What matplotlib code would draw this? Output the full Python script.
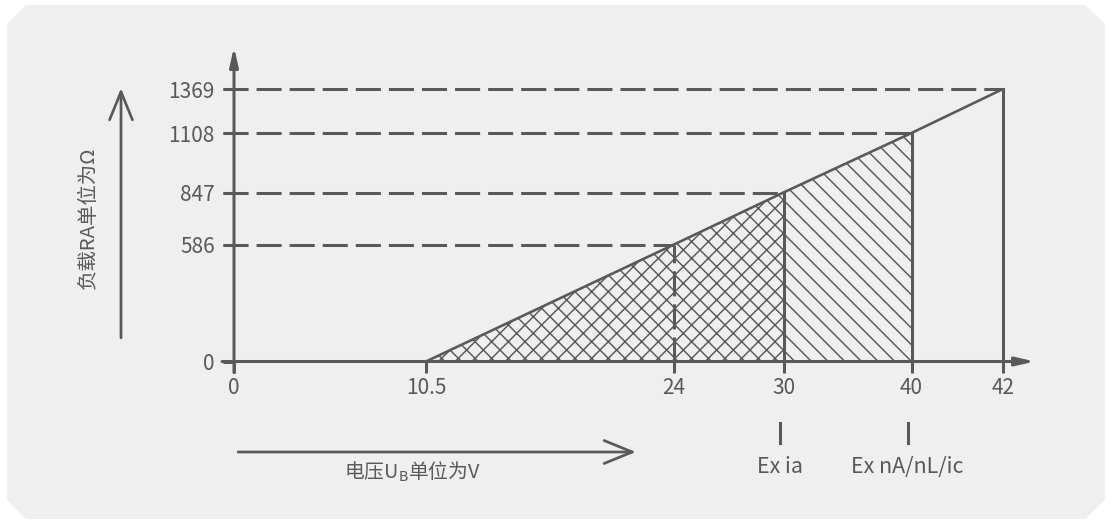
# Schematic: load resistance vs supply voltage for Ex ia / Ex nA/nL/ic zones

import numpy as np
import matplotlib
matplotlib.use('Agg')
import matplotlib.pyplot as plt
import matplotlib.transforms as mtransforms
from matplotlib.patches import Polygon, FancyArrowPatch

# data
voltage = [10.5, 24, 30, 40, 42]
resistance = [0, 586, 847, 1108, 1369]
x_ticks = [0, 10.5, 24, 30, 40, 42]
y_ticks = [0, 586, 847, 1108, 1369]
zone_labels = ['Ex ia', 'Ex nA/nL/ic']
zone_limits = [30, 40]
x_title = '电压U$_{\\mathrm{B}}$单位为V'
y_title = '负载RA单位为Ω'

# the drawing is not to scale: pixel offset of each tick from the origin
x_layout = [0, 192, 440, 549.5, 677.5, 769]
y_layout = [0, 117, 169, 228.5, 272.5]

W, H, DPI = 1112, 524, 150
C = '#595959'
FONT = ['Noto Sans CJK SC', 'DejaVu Sans']


def piecewise(vals, px):
    vals = np.asarray(vals, float)
    px = np.asarray(px, float)
    slope = px[-1] / vals[-1]
    kv = np.concatenate([[-1e4], vals, [vals[-1] + 1e4]])
    kp = np.concatenate([[-1e4 * slope], px, [px[-1] + 1e4 * slope]])
    return (lambda v: np.interp(v, kv, kp)), (lambda p: np.interp(p, kp, kv))


def main():
    plt.rcParams['font.family'] = FONT
    plt.rcParams['hatch.linewidth'] = 0.7
    plt.rcParams['axes.unicode_minus'] = False

    fig = plt.figure(figsize=(W / DPI, H / DPI), dpi=DPI)
    fig.patch.set_facecolor('white')

    # grey panel with cut corners
    pts = [(7, 24), (26, 5), (1085, 5), (1105, 24), (1105, 500), (1085, 519), (26, 519), (7, 500)]
    fig.patches.append(Polygon([(x / W, 1 - y / H) for x, y in pts], closed=True,
                               transform=fig.transFigure, facecolor='#efefef',
                               edgecolor='none', zorder=-5))

    x0, y0 = 234, 361.5
    left, right, top, bottom = 214, 1045, 39.5, 381.5
    ax = fig.add_axes([left / W, 1 - bottom / H, (right - left) / W, (bottom - top) / H])
    ax.set_facecolor('none')
    ax.set_zorder(2)

    fx, ix = piecewise(x_ticks, x_layout)
    fy, iy = piecewise(y_ticks, y_layout)
    ax.set_xscale('function', functions=(fx, ix))
    ax.set_yscale('function', functions=(fy, iy))
    ax.set_xlim(ix(left - x0), ix(right - x0))
    ax.set_ylim(iy(y0 - bottom), iy(y0 - top))

    for s in ax.spines.values():
        s.set_visible(False)
    ax.spines['bottom'].set_position(('data', 0))
    ax.spines['left'].set_position(('data', 0))

    ax.set_xticks(x_ticks, [f'{v:g}' for v in x_ticks])
    ax.set_yticks(y_ticks, [f'{v:g}' for v in y_ticks])
    ax.tick_params(axis='x', direction='out', length=5.3, width=1.45, color=C,
                   pad=2, labelsize=10, labelcolor=C)
    ax.tick_params(axis='y', direction='out', length=5.3, width=1.45, color=C,
                   pad=4, labelsize=10, labelcolor=C)
    ax.minorticks_off()

    # axes with small filled heads
    head = '-|>,head_length=0.75,head_width=0.17'
    ax.annotate('', xy=(ix(801), 0), xytext=(ix(-12), 0),
                arrowprops=dict(arrowstyle=head, lw=1.45, color=C, shrinkA=0, shrinkB=0,
                                mutation_scale=10), annotation_clip=False)
    ax.annotate('', xy=(0, iy(314.5)), xytext=(0, iy(-11)),
                arrowprops=dict(arrowstyle=head, lw=1.45, color=C, shrinkA=0, shrinkB=0,
                                mutation_scale=10), annotation_clip=False)

    # hatched zones
    ax.fill_between(voltage[:3], resistance[:3], 0, hatch='xxx', facecolor='none',
                    edgecolor=C, linewidth=0, zorder=1)
    ax.fill_between(voltage[2:4], resistance[2:4], 0, hatch='\\\\\\', facecolor='none',
                    edgecolor=C, linewidth=0, zorder=1)

    # characteristic line
    ax.plot(voltage, resistance, color=C, lw=1.25, solid_capstyle='butt', zorder=3)

    # dashed guides start at the tick mark, left of the axis
    dash = (0, (8.3, 2.65))
    x_start = ix(-11)
    for v, r in zip(voltage[1:], resistance[1:]):
        ax.plot([x_start, v], [r, r], color=C, lw=1.45, linestyle=dash,
                solid_capstyle='butt', dash_capstyle='butt', zorder=2, clip_on=False)
        ls = dash if v == 24 else '-'
        ax.plot([v, v], [0, r], color=C, lw=1.45, linestyle=ls, zorder=2)

    # zone markers below the axis
    tr = mtransforms.blended_transform_factory(ax.transData, fig.transFigure)
    for v, lab in zip(zone_limits, zone_labels):
        xv = ix(fx(v) - 4)
        ax.plot([xv, xv], [1 - 423 / H, 1 - 443 / H], color=C, lw=1.45,
                transform=tr, clip_on=False)
        ax.text(xv, 1 - 467 / H, lab, transform=tr, ha='center', va='center',
                fontsize=10.3, color=C)

    # direction arrows with titles
    open_head = '->,head_length=1.35,head_width=0.55'
    fig_px = lambda x, y: (x / W, 1 - y / H)
    fig.add_artist(FancyArrowPatch(
        fig_px(234, 452), fig_px(640, 452), transform=fig.transFigure,
        arrowstyle=open_head, mutation_scale=10, lw=1.3, color=C))
    fig.add_artist(FancyArrowPatch(
        fig_px(121, 342), fig_px(121, 84), transform=fig.transFigure,
        arrowstyle=open_head, mutation_scale=10, lw=1.3, color=C))
    fig.text(412 / W, 1 - 472 / H, x_title, ha='center', va='center',
             fontsize=9.5, color=C)
    fig.text(88 / W, 1 - 218 / H, y_title, ha='center', va='center', rotation=90,
             fontsize=9.8, color=C)

    fig.savefig('out.png', dpi=DPI)


if __name__ == "__main__":
    main()
